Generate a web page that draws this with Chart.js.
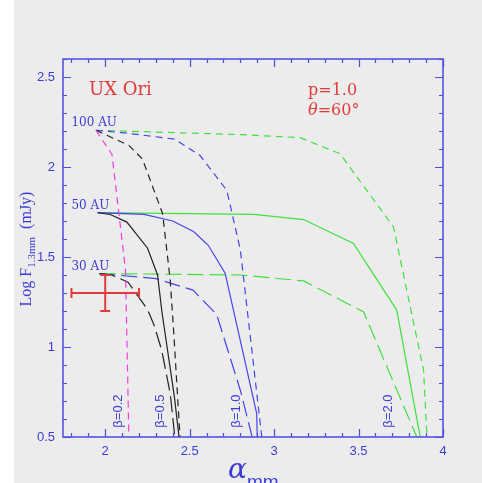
<!DOCTYPE html>
<html>
<head>
<meta charset="utf-8">
<script src="https://cdn.jsdelivr.net/npm/chart.js@4.4.0/dist/chart.umd.min.js"></script>
<style>
  body { margin: 0; background: #fff; }
  #wrap { width: 482px; height: 483px; }
</style>
</head>
<body>
<div id="wrap"><canvas id="fluxChart" width="482" height="483"></canvas></div>
<script>
// axis ticks
const xMajor = [2, 2.5, 3, 3.5, 4];
const yMajor = [0.5, 1, 1.5, 2, 2.5];

// model tracks: beta = 0.2 (only 100 AU)
const b02r100X = [1.945, 2.04, 2.12, 2.14];
const b02r100Y = [2.204, 2.07, 1.43, 0.5];

// beta = 0.5
const b05r100X = [1.945, 2.14, 2.22, 2.34, 2.385, 2.405, 2.43, 2.443];
const b05r100Y = [2.204, 2.12, 2.045, 1.74, 1.37, 1.09, 0.70, 0.5];
const b05r50X  = [1.955, 2.03, 2.128, 2.25, 2.31, 2.335, 2.41, 2.437];
const b05r50Y  = [1.746, 1.736, 1.694, 1.55, 1.40, 1.2, 0.72, 0.5];
const b05r30X  = [1.965, 2.04, 2.135, 2.25, 2.29, 2.335, 2.385, 2.412];
const b05r30Y  = [1.408, 1.40, 1.36, 1.21, 1.12, 0.98, 0.74, 0.5];

// beta = 1.0
const b10r100X = [1.945, 2.11, 2.41, 2.56, 2.72, 2.80, 2.927];
const b10r100Y = [2.204, 2.19, 2.155, 2.065, 1.87, 1.54, 0.5];
const b10r50X  = [1.955, 2.23, 2.40, 2.525, 2.61, 2.71, 2.897, 2.90];
const b10r50Y  = [1.746, 1.737, 1.70, 1.64, 1.565, 1.41, 0.63, 0.5];
const b10r30X  = [1.965, 2.30, 2.52, 2.66, 2.80, 2.87];
const b10r30Y  = [1.408, 1.38, 1.316, 1.18, 0.76, 0.5];

// beta = 2.0
const b20r100X = [1.945, 2.80, 3.155, 3.39, 3.707, 3.885, 3.905];
const b20r100Y = [2.204, 2.18, 2.163, 2.074, 1.667, 0.87, 0.5];
const b20r50X  = [1.955, 2.88, 3.175, 3.47, 3.726, 3.865];
const b20r50Y  = [1.746, 1.737, 1.708, 1.575, 1.205, 0.5];
const b20r30X  = [1.965, 2.80, 3.175, 3.53, 3.845];
const b20r30Y  = [1.408, 1.40, 1.367, 1.195, 0.5];

// observed point with error bars
const obsX = 2.0, obsY = 1.3;
const obsErrX = 0.2, obsErrY = 0.1;

// curve annotations
const betaText = ['β=0.2', 'β=0.5', 'β=1.0', 'β=2.0'];
const betaX = [2.076, 2.325, 2.775, 3.675];
const betaY = 0.644;
const radText = ['100 AU', '50 AU', '30 AU'];
const radX = 1.80;
const radY = [2.204, 1.746, 1.408];

const BLUE = '#4b4be6';
const TXT = '#3d3dd6';
const RED = '#e23b3b';
const BG = '#ececec';
const SHORT = [7, 5], LONG = [16, 6];

function pts(xs, ys) {
    return xs.map((x, i) => ({ x: x, y: ys[i] }));
}

function track(xs, ys, color, dash) {
    return {
        data: pts(xs, ys),
        showLine: true,
        borderColor: color,
        borderWidth: 1.2,
        borderDash: dash,
        pointRadius: 0,
        tension: 0,
        fill: false
    };
}

const datasets = [
    track(b02r100X, b02r100Y, '#ee3ee6', SHORT),
    track(b05r100X, b05r100Y, '#222222', SHORT),
    track(b05r50X, b05r50Y, '#222222', []),
    track(b05r30X, b05r30Y, '#222222', LONG),
    track(b10r100X, b10r100Y, '#4444ee', SHORT),
    track(b10r50X, b10r50Y, '#4444ee', []),
    track(b10r30X, b10r30Y, '#4444ee', LONG),
    track(b20r100X, b20r100Y, '#3fe03f', SHORT),
    track(b20r50X, b20r50Y, '#3fe03f', []),
    track(b20r30X, b20r30Y, '#3fe03f', LONG)
];

// background, frame with inward ticks, error bar and text
const decorPlugin = {
    id: 'decor',
    beforeDraw(chart) {
        const c = chart.ctx;
        c.save();
        c.fillStyle = '#ffffff';
        c.fillRect(0, 0, chart.width, chart.height);
        c.fillStyle = BG;
        c.fillRect(14, 0, chart.width - 14, chart.height);
        c.restore();
    },
    afterDatasetsDraw(chart) {
        const c = chart.ctx;
        const ca = chart.chartArea;
        const sx = chart.scales.x, sy = chart.scales.y;
        c.save();

        // frame
        c.strokeStyle = BLUE;
        c.lineWidth = 1.5;
        c.strokeRect(ca.left, ca.top, ca.right - ca.left, ca.bottom - ca.top);

        // ticks every 0.1, longer at 0.5
        c.lineWidth = 1.2;
        c.beginPath();
        for (let i = 18; i <= 40; i++) {
            const px = Math.round(sx.getPixelForValue(i / 10)) + 0.5;
            const len = i % 5 === 0 ? 8 : 4;
            c.moveTo(px, ca.bottom); c.lineTo(px, ca.bottom - len);
            c.moveTo(px, ca.top); c.lineTo(px, ca.top + len);
        }
        for (let i = 5; i <= 26; i++) {
            const py = Math.round(sy.getPixelForValue(i / 10)) + 0.5;
            const len = i % 5 === 0 ? 8 : 4;
            c.moveTo(ca.left, py); c.lineTo(ca.left + len, py);
            c.moveTo(ca.right, py); c.lineTo(ca.right - len, py);
        }
        c.stroke();

        // observed point
        const ox = sx.getPixelForValue(obsX), oy = sy.getPixelForValue(obsY);
        const x0 = sx.getPixelForValue(obsX - obsErrX), x1 = sx.getPixelForValue(obsX + obsErrX);
        const y0 = sy.getPixelForValue(obsY - obsErrY), y1 = sy.getPixelForValue(obsY + obsErrY);
        c.strokeStyle = RED;
        c.lineWidth = 2;
        c.beginPath();
        c.moveTo(x0, oy); c.lineTo(x1, oy);
        c.moveTo(ox, y0); c.lineTo(ox, y1);
        c.moveTo(x0, oy - 5); c.lineTo(x0, oy + 5);
        c.moveTo(x1, oy - 5); c.lineTo(x1, oy + 5);
        c.moveTo(ox - 5, y0); c.lineTo(ox + 5, y0);
        c.moveTo(ox - 5, y1); c.lineTo(ox + 5, y1);
        c.stroke();

        // radius labels
        c.fillStyle = TXT;
        c.font = '12px "DejaVu Serif"';
        c.textAlign = 'left';
        c.textBaseline = 'alphabetic';
        radText.forEach((t, i) => {
            c.fillText(t, sx.getPixelForValue(radX), sy.getPixelForValue(radY[i]) - 4);
        });

        // beta labels, rotated
        c.font = '13px "Liberation Sans"';
        c.textAlign = 'center';
        c.textBaseline = 'middle';
        betaText.forEach((t, i) => {
            c.save();
            c.translate(sx.getPixelForValue(betaX[i]), sy.getPixelForValue(betaY));
            c.rotate(-Math.PI / 2);
            c.fillText(t, 0, 0);
            c.restore();
        });

        // object name and model parameters
        c.fillStyle = RED;
        c.textAlign = 'left';
        c.font = '18px "DejaVu Serif"';
        c.fillText('UX Ori', ca.left + 26, ca.top + 31);
        c.font = '16px "DejaVu Serif"';
        c.fillText('p=1.0', ca.left + 245, ca.top + 32);
        c.font = 'italic 16px "DejaVu Serif"';
        c.fillText('θ', ca.left + 245, ca.top + 52);
        const tw = c.measureText('θ').width;
        c.font = '16px "DejaVu Serif"';
        c.fillText('=60°', ca.left + 245 + tw, ca.top + 52);

        // y axis title
        c.fillStyle = TXT;
        c.save();
        c.translate(25, 249);
        c.rotate(-Math.PI / 2);
        c.textBaseline = 'alphabetic';
        const big = '16px "Liberation Serif"', small = '11px "Liberation Serif"';
        c.font = big;
        const w1 = c.measureText('Log F').width;
        const w3 = c.measureText('  (mJy)').width;
        c.font = small;
        const w2 = c.measureText('1.3mm').width;
        let x = -(w1 + w2 + w3) / 2;
        c.font = big;
        c.fillText('Log F', x, 6);
        x += w1;
        c.font = small;
        c.fillText('1.3mm', x, 10);
        x += w2;
        c.font = big;
        c.fillText('  (mJy)', x, 6);
        c.restore();

        // x axis title
        c.textAlign = 'left';
        c.textBaseline = 'alphabetic';
        c.font = 'italic 28px "DejaVu Serif"';
        c.fillText('α', 228, 478);
        c.font = '19px "Liberation Sans"';
        c.fillText('mm', 247, 488);

        c.restore();
    }
};

new Chart(document.getElementById('fluxChart').getContext('2d'), {
    type: 'scatter',
    data: { datasets: datasets },
    options: {
        responsive: false,
        animation: false,
        layout: { padding: { top: 59, right: 39, left: 0, bottom: 0 } },
        plugins: { legend: { display: false }, tooltip: { enabled: false } },
        scales: {
            x: {
                type: 'linear',
                min: 1.75,
                max: 4,
                grid: { display: false, drawTicks: false },
                border: { display: false },
                afterBuildTicks: s => { s.ticks = xMajor.map(v => ({ value: v })); },
                afterFit: s => { s.height = 46; },
                ticks: {
                    padding: 7,
                    color: TXT,
                    font: { family: 'Liberation Sans', size: 13 },
                    maxRotation: 0,
                    callback: v => String(v)
                }
            },
            y: {
                type: 'linear',
                min: 0.5,
                max: 2.6,
                grid: { display: false, drawTicks: false },
                border: { display: false },
                afterBuildTicks: s => { s.ticks = yMajor.map(v => ({ value: v })); },
                afterFit: s => { s.width = 63; },
                ticks: {
                    padding: 8,
                    color: TXT,
                    font: { family: 'Liberation Sans', size: 13 },
                    callback: v => String(v)
                }
            }
        }
    },
    plugins: [decorPlugin]
});
</script>
</body>
</html>
